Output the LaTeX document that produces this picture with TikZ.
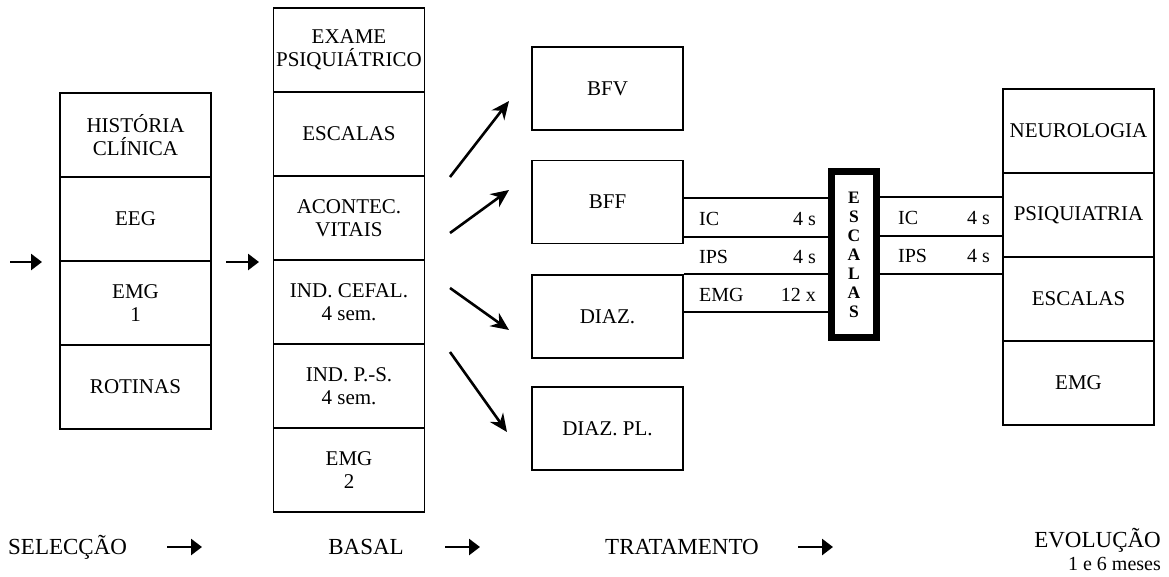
\documentclass[tikz,border=0pt]{standalone}
\usepackage{fontspec}
\setmainfont{Liberation Serif}
\usetikzlibrary{arrows.meta}

\begin{document}
\begin{tikzpicture}[x=1pt, y=-1pt,
    cell/.style={draw, line width=1.8pt, minimum width=151pt, minimum height=84pt,
                 inner sep=0pt, align=center, font=\fontsize{21}{23}\selectfont},
    tbox/.style={cell, minimum height=83pt},
    escbox/.style={draw, line width=6.5pt, minimum width=45pt, minimum height=166pt,
                   inner sep=0pt, align=center, font=\fontsize{17.5}{19}\selectfont\bfseries},
    lbl/.style={inner sep=0pt, font=\fontsize{20}{22}\selectfont},
    stage/.style={inner sep=0pt, font=\fontsize{23}{24}\selectfont},
    fin/.style={line width=1.4pt},
    bigarrow/.style={-{Triangle[length=11pt,width=16pt]}, line width=2.8pt},
    diagarrow/.style={-{Stealth[length=18pt,width=16pt]}, line width=2.6pt}]

    \useasboundingbox (0,0) rectangle (1169,576);

    % Seleccao
    \node[cell] (sel1) at (135.5,135) {HISTÓRIA\\CLÍNICA};
    \node[cell] (sel2) at (135.5,219) {EEG};
    \node[cell] (sel3) at (135.5,303) {EMG\\1};
    \node[cell] (sel4) at (135.5,387) {ROTINAS};

    % Basal
    \node[cell] (bas1) at (349,50) {EXAME\\PSIQUIÁTRICO};
    \node[cell] (bas2) at (349,134) {ESCALAS};
    \node[cell] (bas3) at (349,218) {ACONTEC.\\VITAIS};
    \node[cell] (bas4) at (349,302) {IND. CEFAL.\\4 sem.};
    \node[cell] (bas5) at (349,386) {IND. P.-S.\\4 sem.};
    \node[cell] (bas6) at (349,470) {EMG\\2};

    % fleches d'entree
    \coordinate (in0) at (10,262);
    \coordinate (in1) at (42,262);
    \coordinate (mid0) at (226,262);
    \coordinate (mid1) at (259,262);
    \draw[bigarrow] (in0) -- (in1);
    \draw[bigarrow] (mid0) -- (mid1);

    % Tratamento
    \node[tbox] (bfv) at (607.5,88.5) {BFV};
    \node[tbox] (bff) at (607.5,202) {BFF};
    \node[tbox] (diaz) at (607.5,316.5) {DIAZ.};
    \node[tbox] (diazpl) at (607.5,428.5) {DIAZ. PL.};

    % fleches obliques
    \coordinate (d1a) at (450,177); \coordinate (d1b) at (509,101);
    \coordinate (d2a) at (450,233); \coordinate (d2b) at (509,190);
    \coordinate (d3a) at (450,288); \coordinate (d3b) at (509,330);
    \coordinate (d4a) at (450,352); \coordinate (d4b) at (507,432);
    \draw[diagarrow] (d1a) -- (d1b);
    \draw[diagarrow] (d2a) -- (d2b);
    \draw[diagarrow] (d3a) -- (d3b);
    \draw[diagarrow] (d4a) -- (d4b);

    % bloc Escalas
    \node[escbox] (esc) at (854,254.5) {E\\S\\C\\A\\L\\A\\S};

    % lignes vers Escalas
    \draw[fin] (bff.east |- 0,198) -- (esc.west |- 0,198);
    \draw[fin] (bff.east |- 0,237) -- (esc.west |- 0,237);
    \draw[fin] (diaz.north east) -- (esc.west |- diaz.north);
    \draw[fin] (diaz.east |- 0,312) -- (esc.west |- 0,312);
    \node[lbl, anchor=west] (ic1) at (699,219) {IC};
    \node[lbl, anchor=east] (ict1) at (816,219) {4 s};
    \node[lbl, anchor=west] (ips1) at (699,257) {IPS};
    \node[lbl, anchor=east] (ipst1) at (816,257) {4 s};
    \node[lbl, anchor=west] (emg1) at (699,295) {EMG};
    \node[lbl, anchor=east] (emgt1) at (816,295) {12 x};

    % Evolucao
    \node[cell] (evo1) at (1078.5,131) {NEUROLOGIA};
    \node[cell] (evo2) at (1078.5,215) {PSIQUIATRIA};
    \node[cell] (evo3) at (1078.5,299) {ESCALAS};
    \node[cell] (evo4) at (1078.5,383) {EMG};

    % lignes apres Escalas
    \draw[fin] (esc.east |- 0,197) -- (evo2.west |- 0,197);
    \draw[fin] (esc.east |- 0,236) -- (evo2.west |- 0,236);
    \draw[fin] (esc.east |- 0,274) -- (evo3.west |- 0,274);
    \node[lbl, anchor=west] (ic2) at (898,218) {IC};
    \node[lbl, anchor=east] (ict2) at (990,218) {4 s};
    \node[lbl, anchor=west] (ips2) at (898,256) {IPS};
    \node[lbl, anchor=east] (ipst2) at (990,256) {4 s};

    % etapes en bas
    \node[stage, anchor=west] (s1) at (8,547) {SELECÇÃO};
    \node[stage] (s2) at (366,547) {BASAL};
    \node[stage] (s3) at (682,547) {TRATAMENTO};
    \node[stage, anchor=east] (s4) at (1161,540) {EVOLUÇÃO};
    \node[lbl, anchor=east] (s4b) at (1161,564) {1 e 6 meses};
    \coordinate (b1a) at (167,547); \coordinate (b1b) at (202,547);
    \coordinate (b2a) at (445,547); \coordinate (b2b) at (480,547);
    \coordinate (b3a) at (798,547); \coordinate (b3b) at (833,547);
    \draw[bigarrow] (b1a) -- (b1b);
    \draw[bigarrow] (b2a) -- (b2b);
    \draw[bigarrow] (b3a) -- (b3b);
\end{tikzpicture}
\end{document}
